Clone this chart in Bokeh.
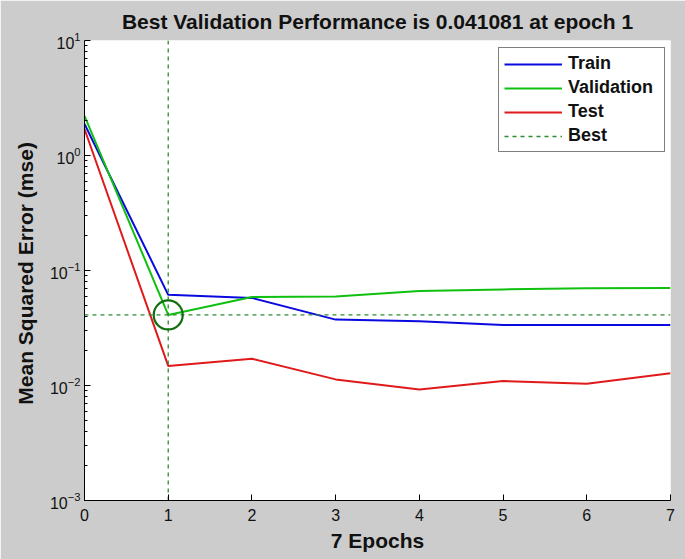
from bokeh.plotting import figure
from bokeh.models import FixedTicker, Legend, LegendItem, LogTickFormatter
from bokeh.embed import file_html
from bokeh.resources import INLINE

# ---- data ----
epochs = [0, 1, 2, 3, 4, 5, 6, 7]
train = [1.88, 0.0614, 0.0578, 0.0374, 0.0362, 0.0336, 0.0336, 0.0335]
validation = [2.21, 0.041081, 0.0588, 0.0595, 0.0662, 0.0685, 0.0700, 0.0703]
test = [1.70, 0.0148, 0.0171, 0.0113, 0.00924, 0.01094, 0.01035, 0.01276]
best_epoch = 1
best_perf = 0.041081
x_ticks = [0, 1, 2, 3, 4, 5, 6, 7]
y_ticks = [1e-3, 1e-2, 1e-1, 1e0, 1e1]
y_minor = [m * d for d in [1e-3, 1e-2, 1e-1, 1e0] for m in range(2, 10)]
y_lo, y_hi = 1e-3, 1e1

FONT = "Liberation Sans"
BG = "#cccccc"

p = figure(width=685, height=559, output_backend="svg", toolbar_location=None,
           x_range=(0, 7), y_range=(y_lo, y_hi), y_axis_type="log",
           title="Best Validation Performance is 0.041081 at epoch 1",
           min_border_left=84, min_border_right=15, min_border_top=40, min_border_bottom=59)

p.background_fill_color = "white"
p.border_fill_color = BG
p.outline_line_color = None
p.grid.visible = False

p.title.text_font = FONT
p.title.text_font_size = "21px"
p.title.text_font_style = "bold"
p.title.align = "center"
p.title.standoff = 15
p.title.text_color = "#111111"

# axes
p.xaxis.ticker = FixedTicker(ticks=x_ticks)
p.yaxis.ticker = FixedTicker(ticks=y_ticks, minor_ticks=y_minor)
p.yaxis.formatter = LogTickFormatter()
for ax in (p.xaxis[0], p.yaxis[0]):
    ax.axis_line_color = "black"
    ax.major_tick_in = 6
    ax.major_tick_out = 0
    ax.minor_tick_in = 3
    ax.minor_tick_out = 0
    ax.major_tick_line_color = "black"
    ax.minor_tick_line_color = "black"
    ax.major_label_text_font = FONT
    ax.major_label_text_font_size = "16px"
    ax.major_label_text_color = "#111111"
    ax.axis_label_text_font = FONT
    ax.axis_label_text_font_size = "21px"
    ax.axis_label_text_font_style = "bold"
    ax.axis_label_text_color = "#111111"
p.xaxis.minor_tick_line_color = None
p.xaxis.axis_label = "7 Epochs"
p.yaxis.axis_label = "Mean Squared Error  (mse)"
p.xaxis.major_label_standoff = 8
p.xaxis.axis_label_standoff = 5
p.yaxis.major_label_standoff = 4
p.yaxis.axis_label_standoff = 10

# lines
r_train = p.line(epochs, train, line_color="#0a0ae0", line_width=2)
r_val = p.line(epochs, validation, line_color="#10c010", line_width=2)
r_test = p.line(epochs, test, line_color="#e01a1a", line_width=2)
r_best = p.line([x_ticks[0], x_ticks[-1]], [best_perf, best_perf],
                line_color="#2f8a2f", line_width=1.3, line_dash="4 4")
p.line([best_epoch, best_epoch], [y_lo, y_hi], line_color="#2f8a2f",
       line_width=1.3, line_dash="4 4")
p.scatter([best_epoch], [best_perf], size=29, marker="circle", fill_color=None,
          line_color="#0f6f0f", line_width=2.2)

legend = Legend(items=[
    LegendItem(label="Train", renderers=[r_train]),
    LegendItem(label="Validation", renderers=[r_val]),
    LegendItem(label="Test", renderers=[r_test]),
    LegendItem(label="Best", renderers=[r_best]),
], location=(414, 348))
legend.border_line_color = "black"
legend.border_line_width = 1
legend.background_fill_color = "white"
legend.background_fill_alpha = 1
legend.padding = 5
legend.spacing = 3
legend.margin = 0
legend.glyph_width = 58
legend.glyph_height = 20
legend.label_height = 20
legend.label_width = 91
legend.label_standoff = 6
legend.label_text_font = FONT
legend.label_text_font_size = "18px"
legend.label_text_font_style = "bold"
legend.label_text_color = "#111111"
p.add_layout(legend, "center")

open("out.html", "w").write(file_html(p, INLINE))
